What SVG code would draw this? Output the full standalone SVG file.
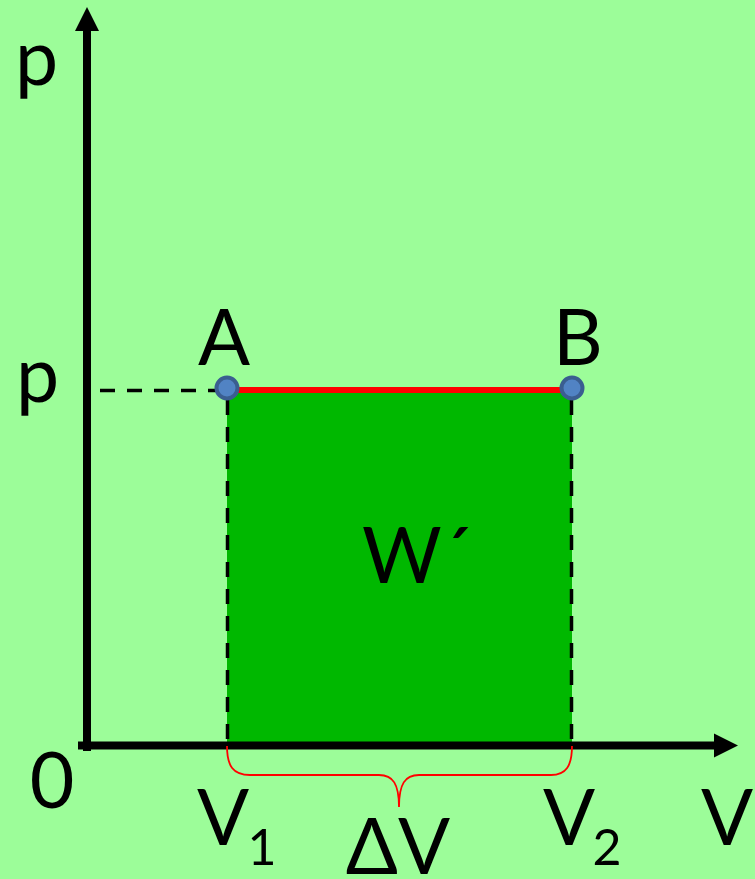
<svg xmlns="http://www.w3.org/2000/svg" width="755" height="879" viewBox="0 0 755 879">
<style>
text{font-family:Lato,"Open Sans","Liberation Sans",sans-serif;fill:#000}
.big{font-size:77px}
.sub{font-size:50px}
.axis{stroke:#000;stroke-width:8;fill:none}
.dash{stroke:#000;stroke-width:3.5;stroke-dasharray:15 12;fill:none}
.pt{fill:#5183C4;stroke:#3A5E90;stroke-width:4}
</style>
<rect width="755" height="879" fill="#9CFD99"/>
<g id="area">
<rect x="227" y="390" width="345" height="355" fill="#00B800"/>
</g>
<g id="connectors">
<line class="dash" x1="100" y1="390.5" x2="222" y2="390.5"/>
<line class="dash" x1="227.5" y1="400" x2="227.5" y2="745"/>
<line class="dash" x1="571.5" y1="400" x2="571.5" y2="745"/>
<line x1="227" y1="390" x2="572" y2="390" stroke="#FF0000" stroke-width="6"/>
<line class="axis" x1="87" y1="28" x2="87" y2="751"/>
<polygon points="87,7 75,31 99,31" fill="#000"/>
<line class="axis" x1="78" y1="745.5" x2="716" y2="745.5"/>
<polygon points="738,745.5 714,733.5 714,757.5" fill="#000"/>
<path d="M227,746 C227,766 233,775 250,775 L379,775 C393,775 399,784 399,807 C399,784 405,775 419,775 L551,775 C566,775 572,766 572,746" fill="none" stroke="#FF0000" stroke-width="1.8"/>
</g>
<g id="A"><circle class="pt" cx="227" cy="388" r="10.5"/><text class="big" x="224" y="365" text-anchor="middle">A</text></g>
<g id="B"><circle class="pt" cx="572" cy="388" r="10.5"/><text class="big" x="578" y="365" text-anchor="middle">B</text></g>
<g id="labels">
<text class="big" x="15" y="85">p</text>
<text class="big" x="16" y="402">p</text>
<text class="big" x="52" y="808" text-anchor="middle">0</text>
<text class="big" x="223" y="845" text-anchor="middle">V</text>
<text class="sub" x="262" y="865" text-anchor="middle">1</text>
<text class="big" x="569" y="845" text-anchor="middle">V</text>
<text class="sub" x="607" y="865" text-anchor="middle">2</text>
<text class="big" x="727" y="845" text-anchor="middle">V</text>
<text class="big" x="398" y="874" text-anchor="middle">ΔV</text>
<text class="big" x="362" y="583">W´</text>
</g>
</svg>
